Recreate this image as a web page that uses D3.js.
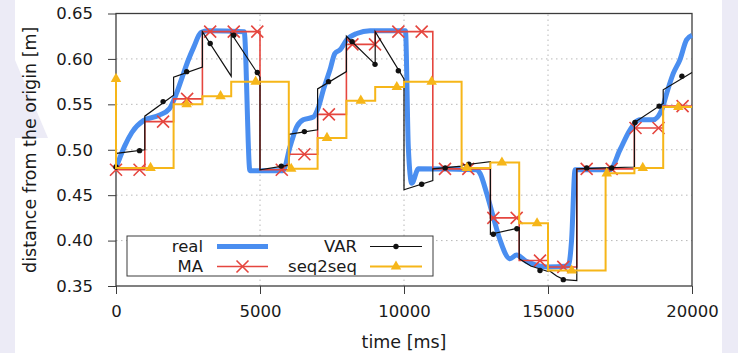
<!DOCTYPE html>
<html>
<head>
<meta charset="utf-8">
<script src="https://cdn.jsdelivr.net/npm/d3@7"></script>
<style>
body { margin: 0; background: #fff; }
svg { display: block; font-family: "DejaVu Sans", sans-serif; }
</style>
</head>
<body>
<svg id="chart" width="738" height="353"></svg>
<script>
// colours
var tint = '#ecebf6';
var frameColor = '#3c3c3c';
var gridColor = '#b8b8b8';
var tcolor = '#1a1a1a';
var blue = '#4a8ef0';
var red = '#e5463f';
var black = '#111111';
var gold = '#f6b619';

// axes
var xTicks = [0, 5000, 10000, 15000, 20000];
var yTicks = [0.35, 0.40, 0.45, 0.50, 0.55, 0.60, 0.65];

// real
var realT = [0, 300, 550, 950, 1500, 1850, 2100, 2300, 2500, 2700, 2950, 3200, 4450, 4650,
	5800, 6040, 6270, 6500, 6850, 7030, 7200, 7430, 7600, 7780, 8010, 8360, 8820, 10050,
	10150, 10270, 10500, 12500, 12640, 12870, 13100, 13330, 13680, 13910, 14260, 14600,
	14950, 15700, 15820, 15940, 17150, 17500, 17850, 18190, 18650, 18950, 19120, 19350,
	19580, 19810, 20000];
var realV = [0.480, 0.504, 0.519, 0.532, 0.538, 0.545, 0.562, 0.580, 0.598, 0.613, 0.629, 0.631, 0.630, 0.477,
	0.477, 0.503, 0.525, 0.533, 0.536, 0.547, 0.566, 0.588, 0.606, 0.610, 0.621, 0.628, 0.631, 0.631,
	0.503, 0.463, 0.479, 0.478, 0.474, 0.452, 0.426, 0.401, 0.380, 0.384, 0.377, 0.373,
	0.371, 0.372, 0.401, 0.478, 0.478, 0.500, 0.522, 0.533, 0.533, 0.544, 0.562, 0.584,
	0.599, 0.621, 0.626];

// MA (step)
var maT = [0, 1000, 2000, 3000, 4000, 5000, 6000, 7000, 8000, 9000, 10000,
	11000, 12000, 13000, 14000, 15000, 16000, 17000, 18000, 19000, 20000];
var maV = [0.478, 0.531, 0.556, 0.630, 0.630, 0.478, 0.495, 0.539, 0.616, 0.630, 0.630,
	0.479, 0.479, 0.425, 0.378, 0.371, 0.479, 0.479, 0.524, 0.548, 0.548];
var maMarkT = [0, 818, 1635, 2470, 3270, 4088, 4906, 5756, 6541, 7392, 8209, 8994, 9803,
	10613, 11424, 12233, 13102, 13912, 14722, 15531, 16343, 17211, 18038, 18839, 19673];

// VAR
var varT = [0, 20, 1000, 1000, 2000, 2000, 3000, 3000, 4000, 4000, 5000, 5000, 6000, 6000,
	7000, 7000, 8000, 8000, 9000, 9000, 10000, 10000, 11000, 11000, 12000, 12000, 13000,
	13000, 14000, 14000, 14400, 15000, 15000, 15300, 15550, 16000, 16000, 17000, 18000,
	18000, 19000, 19000, 20000];
var varV = [0.481, 0.496, 0.500, 0.537, 0.560, 0.580, 0.591, 0.630, 0.581, 0.628, 0.580, 0.478, 0.483, 0.517,
	0.522, 0.567, 0.586, 0.625, 0.594, 0.630, 0.578, 0.456, 0.466, 0.479, 0.482, 0.483, 0.487,
	0.407, 0.414, 0.380, 0.372, 0.366, 0.368, 0.361, 0.357, 0.356, 0.479, 0.480, 0.481,
	0.530, 0.551, 0.566, 0.585];
var varDotT = [0, 818, 1635, 2453, 3270, 4088, 4906, 5740, 6541, 7380, 8200, 8994, 9803,
	10613, 11430, 12250, 13102, 13920, 14722, 15531, 16343, 17211, 18020, 18860, 19650];
var varDotV = [0.481, 0.499, 0.553, 0.586, 0.617, 0.626, 0.585, 0.482, 0.520, 0.575, 0.619, 0.594, 0.587,
	0.462, 0.480, 0.484, 0.407, 0.413, 0.367, 0.357, 0.480, 0.480, 0.530, 0.548, 0.581];

// seq2seq (step)
var seqT = [0, 0, 2000, 3000, 4000, 6000, 7000, 8000, 9000, 10000, 12000, 13000, 14000,
	15000, 17000, 18000, 19000, 20000];
var seqV = [0.578, 0.480, 0.550, 0.559, 0.575, 0.479, 0.513, 0.554, 0.569, 0.575, 0.480, 0.486, 0.419,
	0.367, 0.474, 0.480, 0.547, 0.547];
var seqMarkT = [0, 1200, 2453, 3630, 4850, 6084, 7326, 8500, 9750, 10960, 12183, 13400,
	14620, 15822, 17040, 18290, 19525];

var W = 738, H = 353;
var margin = {left: 116, right: 46, top: 13.5, bottom: 67};

function stepAt(ts, vs, t) {
	var i = d3.bisectLeft(ts, t);
	if (ts[i] === t) return vs[i];
	return vs[i - 1];
}

function drawX(g, x, y, s) {
	g.append('path')
		.attr('d', 'M' + (x - s) + ',' + (y - s) + 'L' + (x + s) + ',' + (y + s) +
			'M' + (x - s) + ',' + (y + s) + 'L' + (x + s) + ',' + (y - s))
		.attr('stroke', red).attr('stroke-width', 1.6).attr('fill', 'none');
}

function plot() {
	var svg = d3.select('#chart');

	// slide background
	svg.append('rect').attr('x', 0).attr('y', 0).attr('width', 15).attr('height', H).attr('fill', tint);
	svg.append('path').attr('d', 'M15,60L48,138L15,138Z').attr('fill', tint);
	svg.append('rect').attr('x', 722).attr('y', 0).attr('width', 16).attr('height', H).attr('fill', tint);

	var x = d3.scaleLinear().domain([0, 20000]).range([margin.left, W - margin.right]);
	var y = d3.scaleLinear().domain([0.35, 0.65]).range([H - margin.bottom, margin.top]);

	// grid
	var grid = svg.append('g');
	grid.selectAll('.gx').data(xTicks.slice(1, -1)).enter().append('line')
		.attr('x1', d => x(d)).attr('x2', d => x(d))
		.attr('y1', y(0.35)).attr('y2', y(0.65))
		.attr('stroke', gridColor).attr('stroke-width', 1).attr('stroke-dasharray', '1.5,3.5');
	grid.selectAll('.gy').data(yTicks.slice(1, -1)).enter().append('line')
		.attr('x1', x(0)).attr('x2', x(20000))
		.attr('y1', d => y(d)).attr('y2', d => y(d))
		.attr('stroke', gridColor).attr('stroke-width', 1).attr('stroke-dasharray', '1.5,3.5');

	// axes
	var xAxis = svg.append('g')
		.attr('transform', 'translate(0,' + y(0.35) + ')')
		.call(d3.axisBottom(x).tickValues(xTicks).tickSize(8).tickSizeOuter(0).tickPadding(11).tickFormat(d3.format('d')));
	var yAxis = svg.append('g')
		.attr('transform', 'translate(' + x(0) + ',0)')
		.call(d3.axisLeft(y).tickValues(yTicks).tickSize(8).tickSizeOuter(0).tickPadding(15).tickFormat(d3.format('.2f')));
	[xAxis, yAxis].forEach(function (a) {
		a.select('.domain').remove();
		a.selectAll('line').attr('stroke', frameColor);
		a.selectAll('text').attr('fill', tcolor).style('font-size', '16.5px').style('font-family', '"DejaVu Sans", sans-serif');
	});

	svg.append('rect')
		.attr('x', x(0)).attr('y', y(0.65))
		.attr('width', x(20000) - x(0)).attr('height', y(0.35) - y(0.65))
		.attr('fill', 'none').attr('stroke', frameColor).attr('stroke-width', 1.3);

	svg.append('text')
		.attr('x', (x(0) + x(20000)) / 2).attr('y', 348)
		.attr('text-anchor', 'middle').attr('fill', tcolor).style('font-size', '17.5px')
		.text('time [ms]');
	svg.append('text')
		.attr('transform', 'translate(36,' + ((y(0.35) + y(0.65)) / 2) + ') rotate(-90)')
		.attr('text-anchor', 'middle').attr('fill', tcolor).style('font-size', '17.5px')
		.text('distance from the origin [m]');

	// series
	var realLine = d3.line().x((d, i) => x(realT[i])).y(d => y(d)).curve(d3.curveMonotoneX);
	svg.append('path').attr('d', realLine(realV))
		.attr('fill', 'none').attr('stroke', blue).attr('stroke-width', 5).attr('stroke-linejoin', 'round');

	var maLine = d3.line().x((d, i) => x(maT[i])).y(d => y(d)).curve(d3.curveStepAfter);
	svg.append('path').attr('d', maLine(maV))
		.attr('fill', 'none').attr('stroke', red).attr('stroke-width', 1.6);
	var maG = svg.append('g');
	maMarkT.forEach(function (t) { drawX(maG, x(t), y(stepAt(maT, maV, t)), 6); });

	var varLine = d3.line().x((d, i) => x(varT[i])).y(d => y(d));
	svg.append('path').attr('d', varLine(varV))
		.attr('fill', 'none').attr('stroke', black).attr('stroke-width', 1.2);
	svg.append('g').selectAll('circle').data(varDotV).enter().append('circle')
		.attr('cx', (d, i) => x(varDotT[i])).attr('cy', d => y(d)).attr('r', 2.7).attr('fill', black);

	var seqLine = d3.line().x((d, i) => x(seqT[i])).y(d => y(d)).curve(d3.curveStepAfter);
	svg.append('path').attr('d', seqLine(seqV))
		.attr('fill', 'none').attr('stroke', gold).attr('stroke-width', 2);
	var tri = d3.symbol().type(d3.symbolTriangle).size(48);
	svg.append('g').selectAll('path').data(seqMarkT).enter().append('path')
		.attr('d', tri)
		.attr('transform', t => 'translate(' + x(t) + ',' + y(stepAt(seqT, seqV, t)) + ')')
		.attr('fill', gold);

	// legend
	var lg = svg.append('g');
	lg.append('rect').attr('x', 127).attr('y', 236).attr('width', 306).attr('height', 40)
		.attr('fill', '#fff').attr('stroke', frameColor).attr('stroke-width', 1);
	var rows = [
		{name: 'real', tx: 203, x0: 217, x1: 268, yy: 246.5},
		{name: 'MA', tx: 203, x0: 217, x1: 268, yy: 266.5},
		{name: 'VAR', tx: 357, x0: 370, x1: 422, yy: 246.5},
		{name: 'seq2seq', tx: 357, x0: 370, x1: 422, yy: 266.5}
	];
	rows.forEach(function (r) {
		lg.append('text').attr('x', r.tx).attr('y', r.yy).attr('dy', '0.36em')
			.attr('text-anchor', 'end').attr('fill', tcolor).style('font-size', '16.5px').text(r.name);
		var ln = lg.append('line').attr('x1', r.x0).attr('x2', r.x1).attr('y1', r.yy).attr('y2', r.yy);
		var cx = (r.x0 + r.x1) / 2;
		if (r.name === 'real') ln.attr('stroke', blue).attr('stroke-width', 5);
		if (r.name === 'MA') { ln.attr('stroke', red).attr('stroke-width', 1.6); drawX(lg, cx, r.yy, 6); }
		if (r.name === 'VAR') {
			ln.attr('stroke', black).attr('stroke-width', 1.2);
			lg.append('circle').attr('cx', cx).attr('cy', r.yy).attr('r', 2.7).attr('fill', black);
		}
		if (r.name === 'seq2seq') {
			ln.attr('stroke', gold).attr('stroke-width', 2);
			lg.append('path').attr('d', tri).attr('transform', 'translate(' + cx + ',' + r.yy + ')').attr('fill', gold);
		}
	});
}

plot();
</script>
</body>
</html>
